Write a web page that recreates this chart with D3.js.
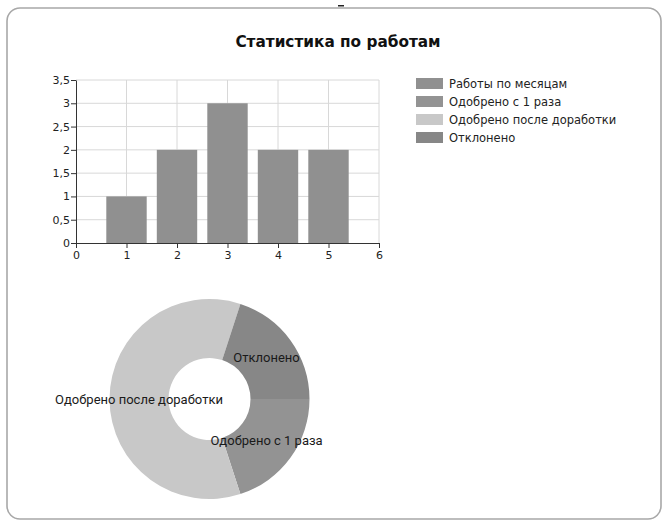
<!DOCTYPE html>
<html>
<head>
<meta charset="utf-8">
<script src="https://cdn.jsdelivr.net/npm/d3@7"></script>
<style>
  body { margin: 0; background: #fff; }
  svg { display: block; }
</style>
</head>
<body>
<svg id="chart" width="665" height="522"></svg>
<script>
// bar chart: works per month
const MONTHS = [1, 2, 3, 4, 5];
const WORKS = [1, 2, 3, 2, 2];
const Y_TICKS = [0, 0.5, 1, 1.5, 2, 2.5, 3, 3.5];
const X_TICKS = [0, 1, 2, 3, 4, 5, 6];

// donut: status of works
const STATUS = ['Одобрено с 1 раза', 'Одобрено после доработки', 'Отклонено'];
const STATUS_COUNT = [2, 6, 2];

const LEGEND = ['Работы по месяцам', 'Одобрено с 1 раза', 'Одобрено после доработки', 'Отклонено'];
const LEGEND_COLORS = ['#909090', '#939393', '#c8c8c8', '#878787'];

const svg = d3.select('#chart');
const FONT = 'DejaVu Sans, Verdana, sans-serif';

// frame
svg.append('rect')
    .attr('x', 7).attr('y', 8)
    .attr('width', 654).attr('height', 511)
    .attr('rx', 13).attr('ry', 13)
    .style('fill', '#fff')
    .style('stroke', '#a8a8a8')
    .style('stroke-width', 1.6);

// small dark mark above the frame
svg.append('rect')
    .attr('x', 338).attr('y', 5)
    .attr('width', 6).attr('height', 1.5)
    .style('fill', '#222');

// title
svg.append('text')
    .attr('x', 338).attr('y', 47)
    .attr('text-anchor', 'middle')
    .style('font-family', FONT)
    .style('font-size', '15.3px')
    .style('font-weight', 'bold')
    .style('fill', '#111')
    .text('Статистика по работам');

// scales
const x = d3.scaleLinear().domain([0, 6]).range([76, 379]);
const y = d3.scaleLinear().domain([0, 3.5]).range([243, 80]);

const fmt = d => String(d).replace('.', ',');

// grid
const grid = svg.append('g');
grid.selectAll('line.h')
    .data(Y_TICKS.slice(1))
    .join('line')
    .attr('x1', x(0)).attr('x2', x(6))
    .attr('y1', d => y(d)).attr('y2', d => y(d))
    .style('stroke', '#d8d8d8');
grid.selectAll('line.v')
    .data(X_TICKS.slice(1))
    .join('line')
    .attr('x1', d => x(d)).attr('x2', d => x(d))
    .attr('y1', y(0)).attr('y2', y(3.5))
    .style('stroke', '#d8d8d8');

// bars
const BAR_W = 0.8;
svg.append('g')
    .selectAll('rect')
    .data(WORKS)
    .join('rect')
    .attr('x', (d, i) => x(MONTHS[i] - BAR_W / 2))
    .attr('width', x(BAR_W) - x(0))
    .attr('y', d => y(d))
    .attr('height', d => y(0) - y(d))
    .style('fill', LEGEND_COLORS[0]);

// axes
const yAxis = d3.axisLeft(y).tickValues(Y_TICKS).tickFormat(fmt).tickSize(5).tickSizeOuter(0);
const xAxis = d3.axisBottom(x).tickValues(X_TICKS).tickFormat(d => d).tickSize(5).tickSizeOuter(0);

const yG = svg.append('g').attr('transform', `translate(${x(0)},0)`).call(yAxis);
const xG = svg.append('g').attr('transform', `translate(0,${y(0)})`).call(xAxis);

[yG, xG].forEach(g => {
    g.selectAll('path, line').style('stroke', '#333');
    g.selectAll('text')
        .style('font-family', FONT)
        .style('font-size', '11px')
        .style('fill', '#222');
});
yG.selectAll('text').attr('x', -6);

// legend
const legend = svg.append('g');
LEGEND.forEach((name, i) => {
    const row = legend.append('g').attr('transform', `translate(416, ${78 + i * 18})`);
    row.append('rect')
        .attr('width', 27).attr('height', 11)
        .style('fill', LEGEND_COLORS[i]);
    row.append('text')
        .attr('x', 33).attr('y', 10)
        .style('font-family', FONT)
        .style('font-size', '11.5px')
        .style('fill', '#222')
        .text(name);
});

// donut
const CX = 209.5, CY = 399, R = 100, R_IN = 41;
const pie = d3.pie()
    .sort(null)
    .startAngle(Math.PI / 2)
    .endAngle(Math.PI / 2 + 2 * Math.PI);
const arc = d3.arc().innerRadius(R_IN).outerRadius(R);
const slices = pie(STATUS_COUNT);

const donut = svg.append('g').attr('transform', `translate(${CX},${CY})`);
donut.selectAll('path')
    .data(slices)
    .join('path')
    .attr('d', arc)
    .style('fill', (d, i) => LEGEND_COLORS[i + 1]);

donut.selectAll('text')
    .data(slices)
    .join('text')
    .attr('transform', d => `translate(${arc.centroid(d)})`)
    .attr('text-anchor', 'middle')
    .attr('dy', '0.35em')
    .style('font-family', 'Roboto, Liberation Sans, sans-serif')
    .style('font-size', '13px')
    .style('fill', '#1a1a1a')
    .text((d, i) => STATUS[i]);
</script>
</body>
</html>
